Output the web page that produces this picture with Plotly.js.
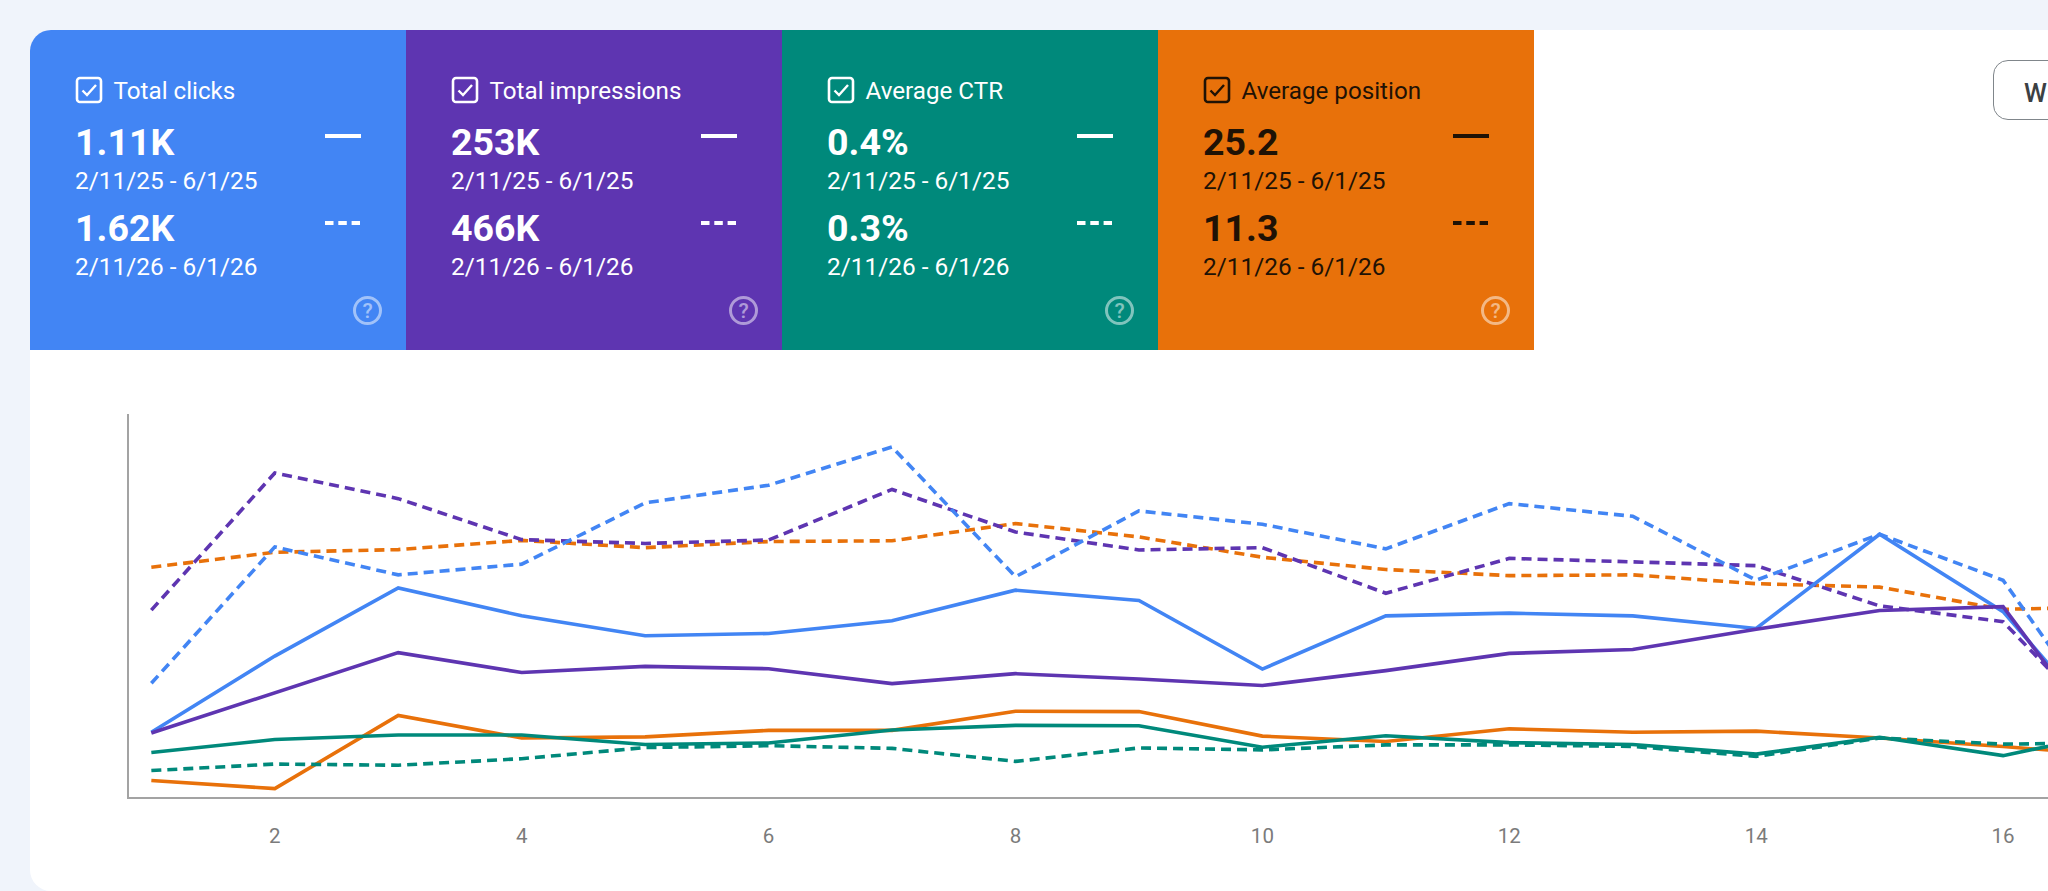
<!DOCTYPE html>
<html><head><meta charset="utf-8">
<script src="https://cdn.plot.ly/plotly-3.0.1.min.js"></script>
<style>
html,body{margin:0;padding:0;width:2048px;height:891px;overflow:hidden;background:#f0f4fb;font-family:Roboto,sans-serif}
#panel{position:absolute;left:30px;top:30px;width:2100px;height:861px;background:#fff;border-radius:21px 0 0 21px;}
#chart{position:absolute;left:0;top:0;width:2048px;height:891px}
.card{position:absolute;top:30px;width:376px;height:319.5px;overflow:hidden}
.t{position:absolute;white-space:nowrap;line-height:1}
.btn{position:absolute;left:1993px;top:60px;width:120px;height:58px;border:1.5px solid #80868b;border-radius:15px;background:#fff}
</style></head><body>
<div id="panel"></div>
<div id="cards"></div>
<div class="btn"></div>
<div class="t" style="left:2024px;top:77.5px;font:500 26px Roboto,sans-serif;color:#3c4043">W</div>
<div id="chart"></div>
<script>
// KPI cards
var cardTitles = ['Total clicks','Total impressions','Average CTR','Average position'];
var cardColors = ['#4285f4','#5e35b1','#00897b','#e8710a'];
var cardInk = ['#ffffff','#ffffff','#ffffff','#1f1205'];
var valuesCurrent = ['1.11K','253K','0.4%','25.2'];
var valuesPrevious = ['1.62K','466K','0.3%','11.3'];
var rangeCurrent = '2/11/25 - 6/1/25';
var rangePrevious = '2/11/26 - 6/1/26';

// Chart values: each metric has its own hidden scale, shown here as percent of plot height
var days = [1,2,3,4,5,6,7,8,9,10,11,12,13,14,15,16,17];
var clicks25 = [16.9,36.8,54.6,47.3,42.1,42.7,46.0,54.0,51.3,33.4,47.3,48.0,47.3,44.0,68.6,48.4,11.2];
var impressions25 = [16.7,27.3,37.7,32.5,34.1,33.5,29.6,32.2,30.8,29.1,33.0,37.5,38.5,43.8,48.7,49.7,6.5];
var position25 = [4.3,2.2,21.3,15.4,15.7,17.4,17.4,22.4,22.3,15.9,14.5,17.8,16.9,17.2,15.4,13.2,10.6];
var ctr25 = [11.6,15.0,16.2,16.2,13.7,14.1,17.5,18.7,18.6,13.0,16.0,14.2,13.7,11.2,15.6,10.8,17.5];
var clicks26 = [29.7,65.3,58.0,60.8,76.8,81.4,91.4,57.5,74.7,71.2,64.8,76.6,73.3,56.6,68.6,56.6,11.1];
var impressions26 = [48.8,84.6,77.9,67.2,66.2,67.1,80.3,69.2,64.5,65.1,53.2,62.3,61.4,60.4,49.9,45.8,12.3];
var position26 = [60.0,63.9,64.6,67.0,65.1,66.7,66.9,71.4,67.9,62.6,59.4,57.8,58.0,55.7,54.8,49.0,49.7];
var ctr26 = [6.9,8.6,8.3,10.0,12.9,13.4,12.7,9.3,12.8,12.3,13.6,13.6,13.2,10.6,15.4,13.8,14.2];
var tickVals = [2,4,6,8,10,12,14,16];
var tickText = ['2','4','6','8','10','12','14','16'];

var html = '';
cardTitles.forEach(function(title,i){
  var ink = cardInk[i];
  html += '<div class="card" style="left:'+(30+376*i)+'px;background:'+cardColors[i]+(i==0?';border-top-left-radius:21px':'')+';color:'+ink+'">'
   + '<svg style="position:absolute;left:45px;top:46px" width="28" height="28" viewBox="0 0 28 28" fill="none" stroke="'+ink+'"><rect x="2" y="2" width="24" height="24" rx="3" stroke-width="2.6"/><path d="M7.5 14.5l4.5 4.5 9-10" stroke-width="2.4"/></svg>'
   + '<div class="t" style="left:83.5px;top:49px;font-size:24.2px">'+title+'</div>'
   + '<div class="t" style="left:45px;top:93.5px;font-size:37.5px;font-weight:700">'+valuesCurrent[i]+'</div>'
   + '<div class="t" style="left:45px;top:139px;font-size:24.4px">'+rangeCurrent+'</div>'
   + '<div class="t" style="left:45px;top:179.5px;font-size:37.5px;font-weight:700">'+valuesPrevious[i]+'</div>'
   + '<div class="t" style="left:45px;top:225px;font-size:24.4px">'+rangePrevious+'</div>'
   + '<svg style="position:absolute;left:295px;top:101.5px" width="36" height="8"><line x1="0" x2="36" y1="4" y2="4" stroke="'+ink+'" stroke-width="4"/></svg>'
   + '<svg style="position:absolute;left:295px;top:189px" width="36" height="8"><line x1="0" x2="35" y1="4" y2="4" stroke="'+ink+'" stroke-width="4" stroke-dasharray="8.5 4.8"/></svg>'
   + '<div style="position:absolute;left:323px;top:266px;width:23px;height:23px;border:3px solid '+(i==3?'#fff':ink)+';border-radius:50%;opacity:.5;color:'+(i==3?'#fff':ink)+';font-size:21px;font-weight:500;line-height:24px;text-align:center">?</div>'
   + '</div>';
});
document.getElementById('cards').innerHTML = html;

function trace(name,y,color,dashed){
  return {x:days,y:y,name:name,type:'scatter',mode:'lines',hoverinfo:'skip',
    line:{color:color,width:3.6,shape:'linear',dash:dashed?'10px,6px':'solid'}};
}
var data = [
  trace('Average position 2026',position26,'#e8710a',true),
  trace('Average position 2025',position25,'#e8710a',false),
  trace('Total impressions 2026',impressions26,'#5e35b1',true),
  trace('Total clicks 2026',clicks26,'#4285f4',true),
  trace('Average CTR 2026',ctr26,'#00897b',true),
  trace('Total clicks 2025',clicks25,'#4285f4',false),
  trace('Total impressions 2025',impressions25,'#5e35b1',false),
  trace('Average CTR 2025',ctr25,'#00897b',false)
];
var layout = {
  width:2048,height:891,showlegend:false,
  paper_bgcolor:'rgba(0,0,0,0)',plot_bgcolor:'rgba(0,0,0,0)',
  margin:{l:128.5,r:0,t:414,b:94,pad:0},
  font:{family:'Roboto, sans-serif'},
  xaxis:{range:[0.819,16.364],tickmode:'array',tickvals:tickVals,ticktext:tickText,
    showgrid:false,zeroline:false,showline:true,linecolor:'#a3a3a3',linewidth:1.7,
    ticks:'',tickfont:{size:20.5,color:'#7b7b7b'},ticklabelstandoff:20},
  yaxis:{range:[0,100],showticklabels:false,showgrid:false,zeroline:false,showline:true,
    linecolor:'#a3a3a3',linewidth:1.7,ticks:''}
};
Plotly.newPlot('chart',data,layout,{displayModeBar:false,staticPlot:true});
</script>
</body></html>
